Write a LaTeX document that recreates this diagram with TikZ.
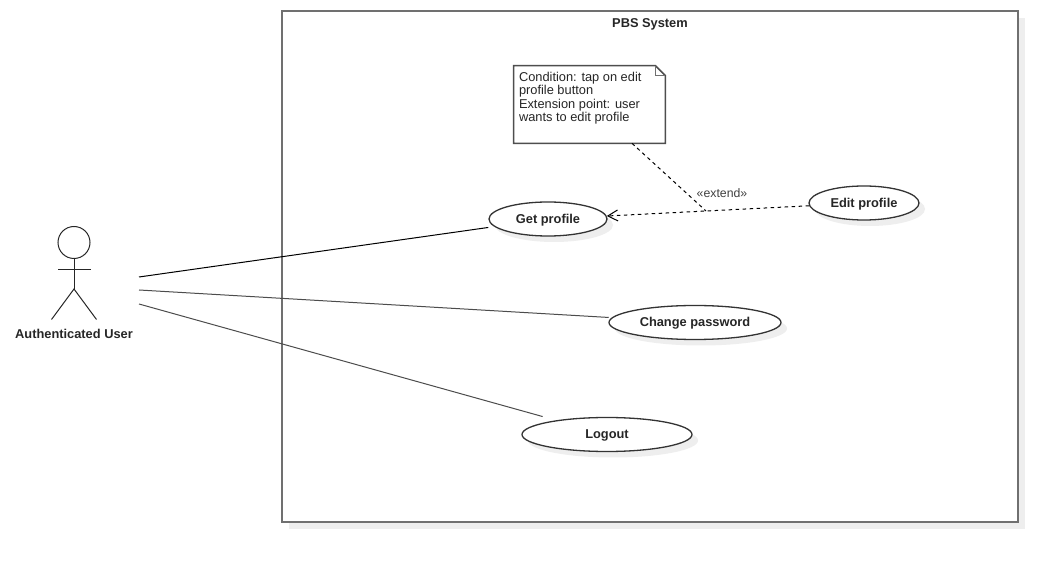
\documentclass[tikz,border=0pt]{standalone}
\usepackage{fontspec}
\setmainfont{Liberation Sans}
\usetikzlibrary{shapes.geometric,arrows.meta,positioning,shadows,calc}
\definecolor{shadowgray}{HTML}{EEEEEE}
\definecolor{framegray}{HTML}{707070}
\definecolor{inkgray}{HTML}{333333}
\tikzset{
  usecase/.style={draw=inkgray,line width=0.026cm,ellipse,fill=white,minimum height=0.68cm,inner sep=0pt,
                  font=\fontsize{7.3}{8}\selectfont\bfseries,text=black!85,align=center,
                  text height=6pt,text depth=1.2pt,
                  drop shadow={shadow xshift=0.12cm,shadow yshift=-0.12cm,fill=shadowgray,opacity=1}},
  sysframe/.style={draw=framegray,line width=0.045cm,fill=white,minimum width=14.72cm,minimum height=10.22cm,
                   drop shadow={shadow xshift=0.14cm,shadow yshift=-0.14cm,fill=shadowgray,opacity=1}},
  notebox/.style={minimum width=3.02cm,minimum height=1.54cm,inner sep=0pt},
  notetxt/.style={font=\fontsize{7.3}{7.5}\selectfont,text=black!85,align=left,inner sep=0pt},
  title/.style={font=\fontsize{7.3}{8}\selectfont\bfseries,text=black!85},
  lbl/.style={font=\fontsize{7}{8}\selectfont,text=black!75},
  assoc/.style={line width=0.02cm},
  extarr/.style={line width=0.02cm,dash pattern=on 0.07cm off 0.07cm,-{Straight Barb[length=0.2cm,width=0.22cm]}},
  extlink/.style={line width=0.02cm,dash pattern=on 0.07cm off 0.07cm},
}
\begin{document}
\begin{tikzpicture}[limb/.style={line width=0.02cm,black!85}]
  \useasboundingbox (0,0) rectangle (21.16,-11.24);

  %% -- System frame --
  \node[sysframe] (system) at (13.0,-5.33) {};
  \node[title] (systitle) at (13.0,-0.48) {PBS System};

  %% -- Actor --
  \node[draw=black!85,line width=0.02cm,circle,minimum size=0.64cm,inner sep=0pt] (head) at (1.48,-4.85) {};
  \coordinate (hip) at (1.48,-5.78);
  \coordinate (armL) at (1.16,-5.40);
  \coordinate (armR) at (1.81,-5.40);
  \coordinate (footL) at (1.03,-6.39);
  \coordinate (footR) at (1.93,-6.39);
  \draw[limb] (head.south) -- (hip);
  \draw[limb] (armL) -- (armR);
  \draw[limb] (footL) -- (hip) -- (footR);
  \node[title] (user) at (1.48,-6.67) {Authenticated User};

  %% -- Use cases --
  \node[usecase,minimum width=2.36cm] (get) at (10.96,-4.38) {Get profile};
  \node[usecase,minimum width=2.2cm] (edit) at (17.28,-4.06) {Edit profile};
  \node[usecase,minimum width=3.44cm] (change) at (13.9,-6.45) {Change password};
  \node[usecase,minimum width=3.4cm] (logout) at (12.14,-8.69) {Logout};

  %% -- Note --
  \node[notebox] (note) at (11.79,-2.09) {};
  \draw[framegray!70!black,line width=0.03cm]
    (note.north west) -- ($(note.north east)+(-0.2,0)$) -- ($(note.north east)+(0,-0.2)$)
    -- (note.south east) -- (note.south west) -- cycle;
  \draw[framegray,line width=0.02cm]
    ($(note.north east)+(-0.2,0)$) -- ($(note.north east)+(-0.2,-0.2)$) -- ($(note.north east)+(0,-0.2)$);
  \node[notetxt,anchor=north west] (notetext) at ($(note.north west)+(0.1,-0.12)$)
    {Condition: tap on edit\\profile button\\[0.6pt]Extension point: user\\wants to edit profile};

  %% -- Associations --
  \coordinate (end1) at (2.78,-5.54);
  \coordinate (end2) at (2.78,-5.80);
  \coordinate (end3) at (2.78,-6.08);
  \draw[assoc,black,shorten >=0.12cm] (end1) -- (get);
  \draw[assoc,black!70,shorten >=0.06cm] (end2) -- (change);
  \draw[assoc,black!70,shorten >=0.28cm] (end3) -- (logout);

  %% -- Extend --
  \coordinate (ext) at ($(edit)!0.5!(get)$);
  \draw[extarr] (edit) -- (get);
  \draw[extlink] (note) -- (ext);
  \node[lbl,above right=0.36cm and 0.32cm of ext,anchor=center] (extlbl) {«extend»};
\end{tikzpicture}
\end{document}
